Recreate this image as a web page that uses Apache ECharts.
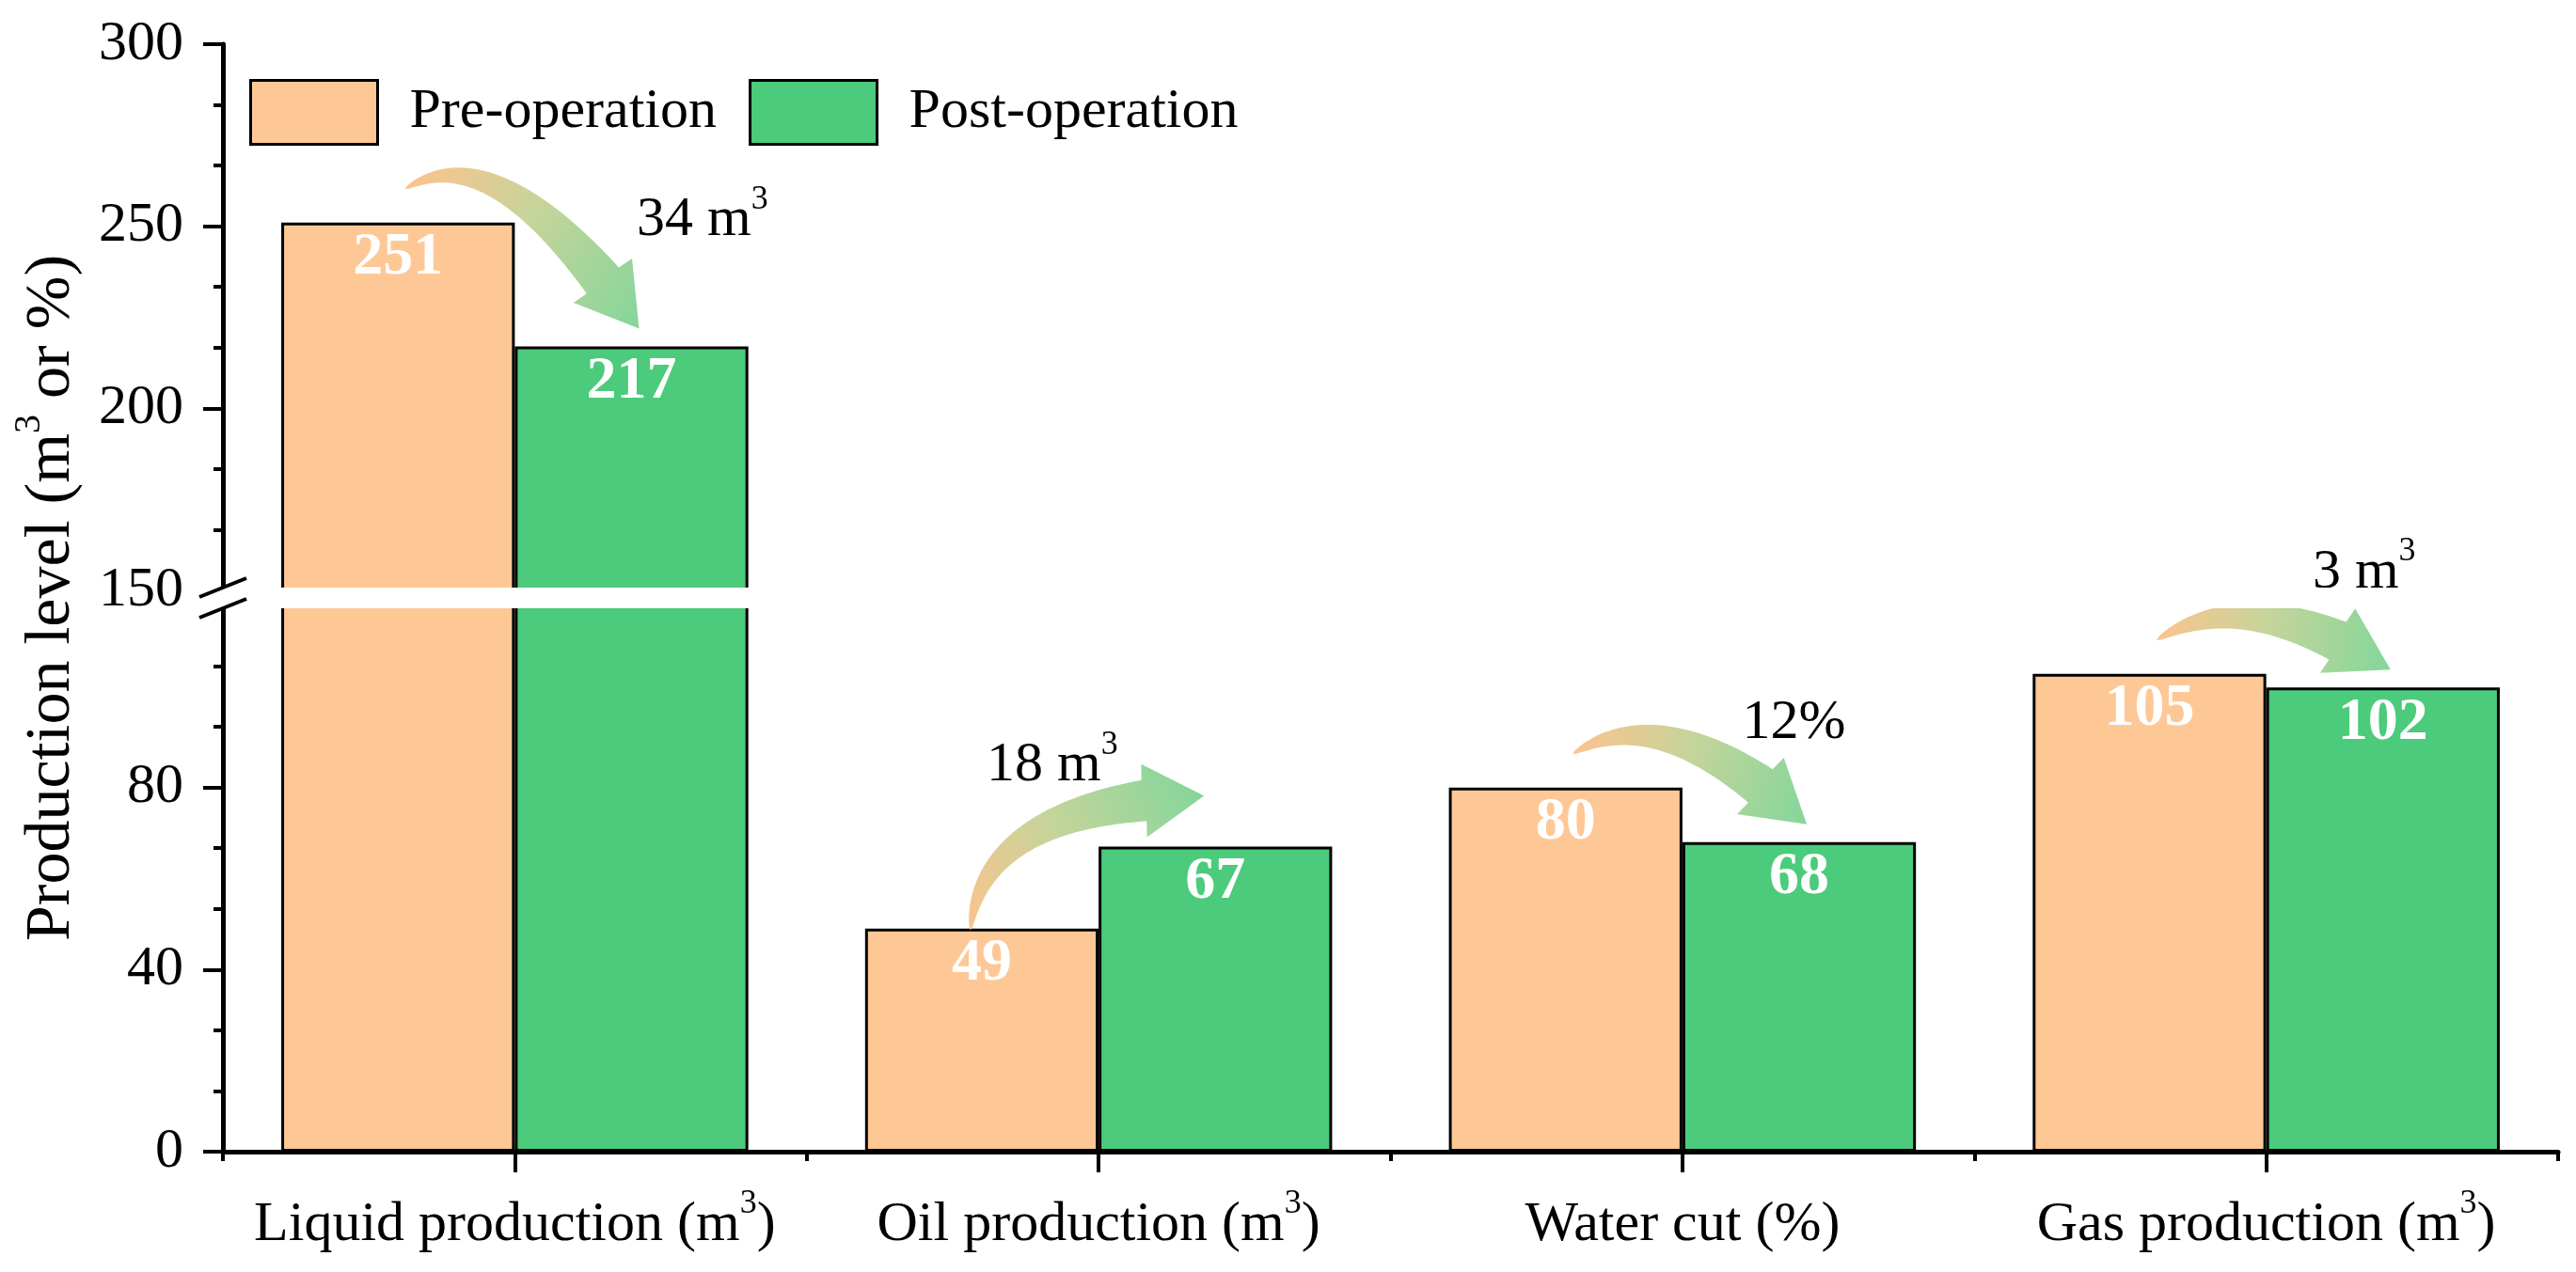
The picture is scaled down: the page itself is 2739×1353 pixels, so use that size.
<!DOCTYPE html>
<html>
<head>
<meta charset="utf-8">
<script src="https://cdn.jsdelivr.net/npm/echarts@6/dist/echarts.min.js"></script>
<style>
html,body{margin:0;padding:0;background:#fff;}
#chart{width:2739px;height:1353px;}
</style>
</head>
<body>
<div id="chart"></div>
<script>
// ---------------- data ----------------
const categories = ['Liquid production (m³)', 'Oil production (m³)', 'Water cut (%)', 'Gas production (m³)'];
const preOperation = [251, 49, 80, 105];
const postOperation = [217, 67, 68, 102];
const changeUnits = [' m³', ' m³', '%', ' m³'];
const upperAxisTicks = [150, 200, 250, 300];
const lowerAxisTicks = [0, 40, 80];
const lowerAxisMax = 120;
const seriesNames = ['Pre-operation', 'Post-operation'];

// ---------------- layout / style ----------------
const FONT = '"Liberation Serif","Times New Roman",serif';
const PRE_COLOR = '#FEC896';
const POST_COLOR = '#4BCB7B';
const LEFT = 237, RIGHT = 19;
const UP_TOP = 47, UP_H = 581;
const LOW_TOP = 644, LOW_H = 581;
const UP_BOTTOM = UP_TOP + UP_H;
const BAR_SHARE = 0.4; // each bar = 40% of category band (20% category gap, 0 bar gap)
const UPPER_MIN = upperAxisTicks[0];
const UPPER_MAX = upperAxisTicks[upperAxisTicks.length - 1];
const UPPER_INT = upperAxisTicks[1] - upperAxisTicks[0];
const LOWER_INT = lowerAxisTicks[1] - lowerAxisTicks[0];

const supRich = { s: { fontSize: 36, fontFamily: FONT, color: '#000', verticalAlign: 'top' } };
const supRichBig = { s: { fontSize: 40, fontFamily: FONT, color: '#000', verticalAlign: 'top' } };
const sup = s => String(s).replace(/³/g, '{s|3}');

const chart = echarts.init(document.getElementById('chart'), null, { renderer: 'canvas' });

function yAxisCommon() {
  return {
    type: 'value',
    axisLine: { show: true, lineStyle: { color: '#000', width: 5 } },
    axisTick: { show: true, inside: false, length: 21, lineStyle: { color: '#000', width: 4 } },
    minorTick: { show: true, splitNumber: 3, length: 10, lineStyle: { color: '#000', width: 4 } },
    splitLine: { show: false },
    minorSplitLine: { show: false },
    axisLabel: { color: '#000', fontSize: 60, fontFamily: FONT, margin: 42 }
  };
}

function bezier(p0, p1, p2, t) {
  const u = 1 - t;
  return [u * u * p0[0] + 2 * u * t * p1[0] + t * t * p2[0],
          u * u * p0[1] + 2 * u * t * p1[1] + t * t * p2[1]];
}

function arrowPoints(tail, ctrl, tip) {
  const N = 60, pts = [], cum = [0];
  for (let k = 0; k <= N; k++) pts.push(bezier(tail, ctrl, tip, k / N));
  for (let k = 1; k <= N; k++) {
    cum.push(cum[k - 1] + Math.hypot(pts[k][0] - pts[k - 1][0], pts[k][1] - pts[k - 1][1]));
  }
  const total = cum[N];
  const headLen = 64, headHalf = 39, wTail = 1, wHead = 44;
  const sLen = total - headLen;
  const shaft = [];
  for (let k = 0; k <= N; k++) {
    if (cum[k] <= sLen) shaft.push({ p: pts[k], s: cum[k] });
    else {
      const f = (sLen - cum[k - 1]) / (cum[k] - cum[k - 1]);
      shaft.push({ p: [pts[k - 1][0] + f * (pts[k][0] - pts[k - 1][0]), pts[k - 1][1] + f * (pts[k][1] - pts[k - 1][1])], s: sLen });
      break;
    }
  }
  const left = [], right = [];
  for (let j = 0; j < shaft.length; j++) {
    const a = shaft[Math.max(0, j - 1)].p, b = shaft[Math.min(shaft.length - 1, j + 1)].p;
    let tx = b[0] - a[0], ty = b[1] - a[1];
    const l = Math.hypot(tx, ty) || 1; tx /= l; ty /= l;
    const nx = -ty, ny = tx;
    const frac = shaft[j].s / sLen;
    const w = wTail + (wHead - wTail) * Math.pow(frac, 0.65);
    const p = shaft[j].p;
    left.push([p[0] + nx * w / 2, p[1] + ny * w / 2]);
    right.push([p[0] - nx * w / 2, p[1] - ny * w / 2]);
  }
  const end = shaft[shaft.length - 1].p;
  let dx = tip[0] - end[0], dy = tip[1] - end[1];
  const dl = Math.hypot(dx, dy) || 1; dx /= dl; dy /= dl;
  const hx = -dy, hy = dx;
  const h1 = [end[0] + hx * headHalf, end[1] + hy * headHalf];
  const h2 = [end[0] - hx * headHalf, end[1] - hy * headHalf];
  return left.concat([h1, tip, h2]).concat(right.reverse());
}

function renderArrow(params, api) {
  const i = api.value(0), a = api.value(1), b = api.value(2);
  const band = api.size([1, 0])[0];
  const p = api.coord([i, a]), q = api.coord([i, b]);
  const off = band * BAR_SHARE / 2;
  const preCx = p[0] - off, postCx = q[0] + off;
  let tail, tip, ctrl, textPos;
  if (b < a) {
    const big = (p[1] > q[1] ? 0 : 1);
    tail = [preCx + 8, p[1] - 36];
    tip = [postCx + 8, q[1] - 19];
    const drop = tip[1] - tail[1];
    ctrl = [tail[0] + 0.4 * (tip[0] - tail[0]), Math.min(tail[1], tip[1]) - 62];
    textPos = [postCx - 20 + 1.1 * Math.max(0, drop - 62), tip[1] - 100 - 0.1 * drop];
  } else {
    tail = [preCx - 12, p[1] + 1];
    tip = [postCx - 12, q[1] - 54];
    ctrl = [tail[0] + 0.05 * (tip[0] - tail[0]), tip[1] + 8];
    textPos = [tail[0] + 0.35 * (tip[0] - tail[0]), tip[1] - 32];
  }
  const grad = new echarts.graphic.LinearGradient(tail[0], tail[1], tip[0], tip[1], [
    { offset: 0, color: '#FAC48E' },
    { offset: 0.45, color: '#C6D49A' },
    { offset: 1, color: '#84D69B' }
  ], true);
  const diff = Math.abs(a - b);
  return {
    type: 'group',
    children: [
      { type: 'polygon', shape: { points: arrowPoints(tail, ctrl, tip) }, style: { fill: grad } },
      {
        type: 'text', x: textPos[0], y: textPos[1],
        style: {
          text: sup(diff + changeUnits[i]), fill: '#000', fontSize: 60, fontFamily: FONT,
          lineHeight: 80, align: 'center', verticalAlign: 'middle', rich: supRich
        }
      }
    ]
  };
}

const upperArrowData = [], lowerArrowData = [];
categories.forEach((c, i) => {
  const row = [i, preOperation[i], postOperation[i]];
  if (Math.min(preOperation[i], postOperation[i]) > UPPER_MIN) upperArrowData.push(row);
  else lowerArrowData.push(row);
});

function barSeries(name, values, color, grid) {
  const upper = grid === 0;
  return {
    name: name, type: 'bar',
    xAxisIndex: upper ? 0 : 1, yAxisIndex: upper ? 0 : 1,
    barGap: '0%', barCategoryGap: '20%',
    clip: true,
    itemStyle: { color: color, borderColor: '#000', borderWidth: 3 },
    label: {
      show: true, position: 'insideTop', distance: 6, color: '#fff',
      fontSize: 64, fontWeight: 'bold', fontFamily: FONT
    },
    data: upper
      ? values.map(v => (v > UPPER_MIN ? v : '-'))
      : values.map(v => ({ value: v, label: { show: v <= lowerAxisMax } })),
    z: 2
  };
}

const xLabel = {
  color: '#000', fontSize: 60, fontFamily: FONT, margin: 38, lineHeight: 80,
  interval: 0, hideOverlap: false,
  formatter: v => sup(v), rich: supRich
};

const option = {
  animation: false,
  backgroundColor: '#fff',
  grid: [
    { left: LEFT, right: RIGHT, top: UP_TOP, height: UP_H, containLabel: false },
    { left: LEFT, right: RIGHT, top: LOW_TOP, height: LOW_H, containLabel: false }
  ],
  legend: {
    data: seriesNames,
    left: 265, top: 84, padding: 0,
    orient: 'horizontal',
    icon: 'rect',
    itemWidth: 135, itemHeight: 68, itemGap: 34,
    itemStyle: { borderColor: '#000', borderWidth: 3 },
    textStyle: { color: '#000', fontSize: 60, fontFamily: FONT, padding: [0, 0, 0, 29] },
    selectedMode: false
  },
  xAxis: [
    { type: 'category', gridIndex: 0, data: categories, show: false },
    {
      type: 'category', gridIndex: 1, data: categories, position: 'bottom',
      axisLine: { show: true, lineStyle: { color: '#000', width: 5 } },
      axisTick: { show: true, length: 10, lineStyle: { color: '#000', width: 4 } },
      axisLabel: xLabel
    },
    {
      type: 'category', gridIndex: 1, data: categories, position: 'bottom',
      axisLine: { show: false },
      axisTick: { show: true, alignWithLabel: true, interval: 0, length: 22, lineStyle: { color: '#000', width: 4 } },
      axisLabel: { show: false }
    }
  ],
  yAxis: [
    Object.assign(yAxisCommon(), { gridIndex: 0, min: UPPER_MIN, max: UPPER_MAX, interval: UPPER_INT }),
    Object.assign(yAxisCommon(), { gridIndex: 1, min: lowerAxisTicks[0], max: lowerAxisMax, interval: LOWER_INT }),
  ],
  series: [
    barSeries(seriesNames[0], preOperation, PRE_COLOR, 0),
    barSeries(seriesNames[1], postOperation, POST_COLOR, 0),
    barSeries(seriesNames[0], preOperation, PRE_COLOR, 1),
    barSeries(seriesNames[1], postOperation, POST_COLOR, 1),
    { type: 'custom', xAxisIndex: 0, yAxisIndex: 0, clip: false, silent: true, z: 10, renderItem: renderArrow, data: upperArrowData },
    { type: 'custom', xAxisIndex: 1, yAxisIndex: 1, clip: false, silent: true, z: 10, renderItem: renderArrow, data: lowerArrowData }
  ],
  graphic: [
    {
      type: 'rect', z: 100, silent: true,
      shape: { x: 205, y: UP_BOTTOM - 3, width: 2739 - RIGHT - 205 + 4, height: (LOW_TOP + 3) - (UP_BOTTOM - 3) },
      style: { fill: '#fff' }
    },
    {
      type: 'line', z: 101, silent: true,
      shape: { x1: LEFT - 25, y1: UP_BOTTOM - 3 + 10, x2: LEFT + 25, y2: UP_BOTTOM - 3 - 10 },
      style: { stroke: '#000', lineWidth: 4 }
    },
    {
      type: 'line', z: 101, silent: true,
      shape: { x1: LEFT - 25, y1: LOW_TOP + 3 + 10, x2: LEFT + 25, y2: LOW_TOP + 3 - 10 },
      style: { stroke: '#000', lineWidth: 4 }
    },
    {
      type: 'text', z: 101, silent: true,
      x: 55, y: (UP_TOP + LOW_TOP + LOW_H) / 2, rotation: Math.PI / 2,
      style: {
        text: sup('Production level (m³ or %)'), fill: '#000', fontSize: 68, fontFamily: FONT,
        lineHeight: 88, align: 'center', verticalAlign: 'middle', rich: supRichBig
      }
    }
  ]
};

// hide the max (break) label on the lower axis
option.yAxis[1].axisLabel.showMaxLabel = false;

chart.setOption(option);
</script>
</body>
</html>
